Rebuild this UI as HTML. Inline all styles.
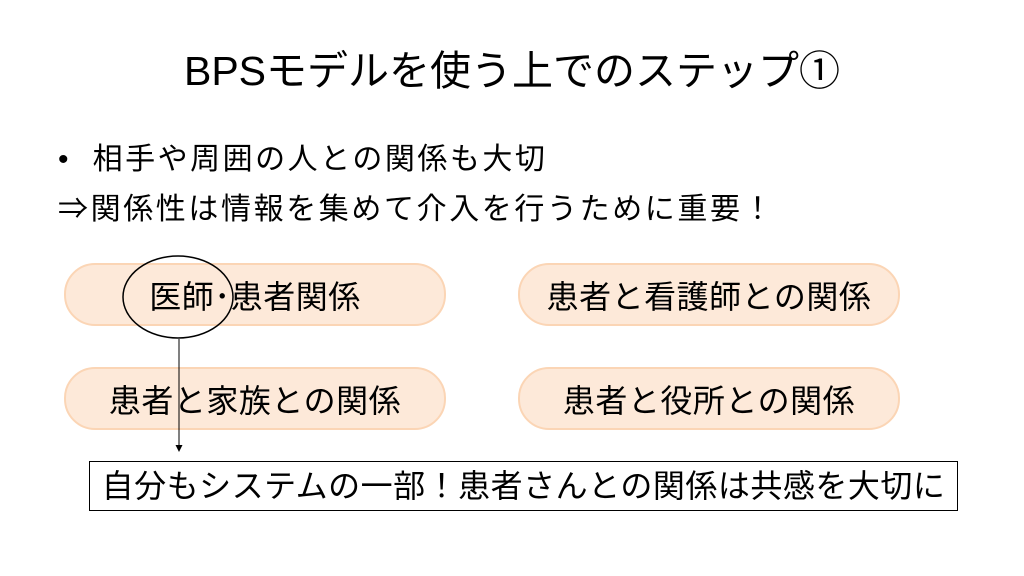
<!DOCTYPE html>
<html><head><meta charset="utf-8"><style>
body{margin:0;width:1024px;height:576px;background:#fff;position:relative;overflow:hidden;font-family:"Liberation Sans","Noto Sans CJK JP",sans-serif;color:#000}
.t{position:absolute;white-space:nowrap}
.pill{position:absolute;width:378px;height:59px;border:2px solid #fbd5b5;background:#fde9d9;border-radius:31px;display:flex;align-items:center;justify-content:center;font-size:32px;letter-spacing:0.5px}
</style></head><body>
<div class="t" style="left:0;width:1024px;text-align:center;top:46px;font-size:41px;line-height:50px">BPSモデルを使う上でのステップ①</div>
<div class="t" style="left:58px;top:140px;font-size:30px;line-height:40px;letter-spacing:2.5px">•&nbsp; 相手や周囲の人との関係も大切</div>
<div class="t" style="left:58px;top:190px;font-size:30px;line-height:40px;letter-spacing:2.6px">⇒関係性は情報を集めて介入を行うために重要！</div>
<div class="pill" style="left:64px;top:263px">医師･患者関係</div>
<div class="pill" style="left:518px;top:263px">患者と看護師との関係</div>
<div class="pill" style="left:64px;top:367px">患者と家族との関係</div>
<div class="pill" style="left:518px;top:367px">患者と役所との関係</div>
<svg style="position:absolute;left:0;top:0" width="1024" height="576">
<ellipse cx="178" cy="297" rx="55" ry="41" fill="none" stroke="#000" stroke-width="1.5"/>
<line x1="179" y1="339" x2="179" y2="446" stroke="#000" stroke-width="1"/>
<polygon points="175.5,445 182.5,445 179,452" fill="#000"/>
</svg>
<div class="t" style="left:89px;top:461px;width:867px;height:48px;border:1.5px solid #000;font-size:32px;line-height:48px;text-align:center;letter-spacing:0.5px">自分もシステムの一部！患者さんとの関係は共感を大切に</div>
</body></html>
